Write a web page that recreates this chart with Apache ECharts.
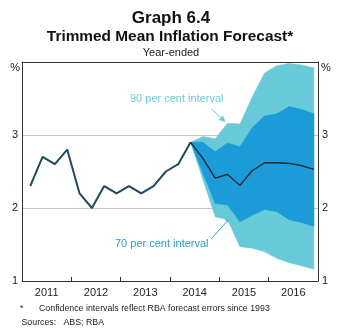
<!DOCTYPE html>
<html><head><meta charset="utf-8">
<script src="https://cdn.jsdelivr.net/npm/echarts@6/dist/echarts.min.js"></script>
<style>html,body{margin:0;padding:0;background:#fff}#c{width:338px;height:334px}</style>
</head><body><div id="c"></div>
<script>
// ---- data ----
const histQuarters = ['2011-Q1','2011-Q2','2011-Q3','2011-Q4','2012-Q1','2012-Q2','2012-Q3','2012-Q4',
  '2013-Q1','2013-Q2','2013-Q3','2013-Q4','2014-Q1','2014-Q2'];
const histValues = [2.3, 2.7, 2.6, 2.8, 2.2, 2.0, 2.3, 2.2, 2.3, 2.2, 2.3, 2.5, 2.6, 2.9];
const fcQuarters = ['2014-Q2','2014-Q3','2014-Q4','2015-Q1','2015-Q2','2015-Q3','2015-Q4',
  '2016-Q1','2016-Q2','2016-Q3','2016-Q4'];
const fcCentral = [2.9, 2.68, 2.41, 2.46, 2.31, 2.51, 2.62, 2.62, 2.61, 2.58, 2.53];
const fcUpper90 = [2.9, 2.98, 2.95, 3.16, 3.15, 3.52, 3.85, 3.95, 3.98, 3.96, 3.92];
const fcUpper70 = [2.9, 2.9, 2.77, 2.89, 2.84, 3.10, 3.26, 3.29, 3.39, 3.35, 3.29];
const fcLower70 = [2.9, 2.48, 2.06, 2.04, 1.81, 1.90, 1.98, 1.95, 1.84, 1.80, 1.75];
const fcLower90 = [2.9, 2.39, 1.88, 1.84, 1.47, 1.45, 1.40, 1.31, 1.25, 1.21, 1.16];
const yearLabels = ['2011','2012','2013','2014','2015','2016'];
const yMin = 1, yMax = 4, yStep = 1;

// ---- helpers ----
const FONT = '"Liberation Sans", Arial, sans-serif';
const LIGHT = '#68c9d9', DARK = '#1b9bd7';
function toX(q) { const [y, qq] = q.split('-Q'); return +y + (+qq - 1) / 4 + 1 / 6; }
function pairs(qs, vals) { return qs.map((q, i) => [toX(q), vals[i]]); }
function arrow(x1, y1, x2, y2, color) {
  const dx = x2 - x1, dy = y2 - y1, L = Math.hypot(dx, dy), ux = dx / L, uy = dy / L;
  const hl = 6.5, hw = 3.2;
  const bx = x2 - ux * hl, by = y2 - uy * hl;
  return [
    { type: 'line', shape: { x1, y1, x2: bx, y2: by }, style: { stroke: color, lineWidth: 1 } },
    { type: 'polygon', shape: { points: [[x2, y2], [bx - uy * hw, by + ux * hw], [bx + uy * hw, by - ux * hw]] },
      style: { fill: color } }
  ];
}
function txt(x, y, text, size, opts) {
  return { type: 'text', x, y, style: Object.assign({ text, fontSize: size, fontFamily: FONT,
    fontWeight: 'normal', fill: '#222', align: 'left', verticalAlign: 'middle' }, opts || {}) };
}
// band polygon drawn through the axis scales (api.coord)
function bandSeries(name, lower, upper, color) {
  return {
    type: 'custom', name, xAxisIndex: 0, yAxisIndex: 0, silent: true, z: 2,
    data: fcQuarters.map((q, i) => [toX(q), lower[i], upper[i]]),
    encode: { x: 0, y: [1, 2] },
    renderItem: function (params, api) {
      if (params.dataIndex !== 0) return null;
      const top = fcQuarters.map((q, i) => api.coord([toX(q), upper[i]]));
      const bot = fcQuarters.map((q, i) => api.coord([toX(q), lower[i]])).reverse();
      return { type: 'polygon', shape: { points: top.concat(bot) },
        style: { fill: color, stroke: color, lineWidth: 0.5 } };
    }
  };
}

const option = {
  animation: false,
  backgroundColor: '#fff',
  grid: { left: 22, right: 20, top: 62, bottom: 53, containLabel: false },
  xAxis: [
    { type: 'value', min: 2011, max: 2017, interval: 1, position: 'bottom',
      axisLine: { show: true, onZero: false, lineStyle: { color: '#333', width: 1 } },
      axisTick: { show: true, inside: true, length: 4, lineStyle: { color: '#333' } },
      axisLabel: { show: false }, splitLine: { show: false } },
    { type: 'category', data: yearLabels, position: 'bottom', boundaryGap: true,
      axisLine: { show: false }, axisTick: { show: false }, splitLine: { show: false },
      axisLabel: { margin: 6, color: '#222', fontSize: 11, fontFamily: FONT } },
    { type: 'value', min: 2011, max: 2017, position: 'top',
      axisLine: { show: true, onZero: false, lineStyle: { color: '#333', width: 1 } },
      axisTick: { show: false }, axisLabel: { show: false }, splitLine: { show: false } }
  ],
  yAxis: [
    { type: 'value', min: yMin, max: yMax, interval: yStep, position: 'left',
      axisLine: { show: true, lineStyle: { color: '#333', width: 1 } }, axisTick: { show: false },
      axisLabel: { margin: 4, color: '#222', fontSize: 11, fontFamily: FONT,
        formatter: v => (v === yMax ? '' : String(v)) },
      splitLine: { show: true, showMinLine: false, showMaxLine: false, lineStyle: { color: '#c4c4c4', width: 1 } } },
    { type: 'value', min: yMin, max: yMax, interval: yStep, position: 'right',
      axisLine: { show: true, lineStyle: { color: '#333', width: 1 } },
      axisTick: { show: false },
      axisLabel: { margin: 4, color: '#222', fontSize: 11, fontFamily: FONT,
        formatter: v => (v === yMax ? '' : String(v)) },
      splitLine: { show: false } }
  ],
  series: [
    bandSeries('90 per cent interval', fcLower90, fcUpper90, LIGHT),
    bandSeries('70 per cent interval', fcLower70, fcUpper70, DARK),
    { type: 'line', name: 'Trimmed mean', data: pairs(histQuarters, histValues), symbol: 'none',
      lineStyle: { color: '#1d4a5c', width: 2 }, z: 5 },
    { type: 'line', name: 'Forecast', data: pairs(fcQuarters, fcCentral), symbol: 'none',
      lineStyle: { color: '#15252c', width: 1.3 }, z: 5 }
  ],
  graphic: [].concat(
    [
      txt(171, 18, 'Graph 6.4', 17, { fontWeight: 'bold', align: 'center', fill: '#111' }),
      txt(170, 37, 'Trimmed Mean Inflation Forecast*', 15.4, { fontWeight: 'bold', align: 'center', fill: '#111' }),
      txt(171, 53, 'Year-ended', 11, { align: 'center' }),
      txt(20, 68, '%', 11, { align: 'right' }),
      txt(321, 68, '%', 11, { align: 'left' }),
      txt(130, 99, '90 per cent interval', 11, { fill: '#6ccbdb' }),
      txt(115, 244, '70 per cent interval', 11, { fill: '#2a9bd6' }),
      txt(20, 309, '*', 8.8),
      txt(39, 309, 'Confidence intervals reflect RBA forecast errors since 1993', 8.8),
      txt(21.5, 322.5, 'Sources:', 8.8),
      txt(63.5, 322.5, 'ABS; RBA', 8.8)
    ],
    arrow(211.5, 109, 225.5, 122, '#6ccbdb'),
    arrow(211.5, 238.5, 231.5, 216.5, '#2a9bd6')
  )
};
const chart = echarts.init(document.getElementById('c'), null, { renderer: 'canvas' });
chart.setOption(option);
</script></body></html>
